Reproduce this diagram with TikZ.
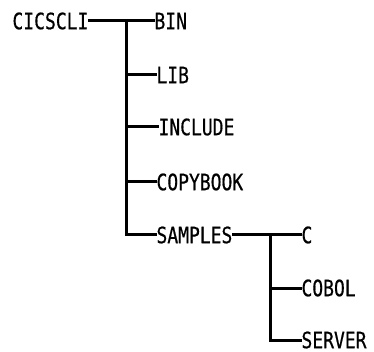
\documentclass[tikz,border=0pt]{standalone}
\usepackage{fontspec}
\newfontfamily\treefont[FakeStretch=0.8,FakeBold=0.6]{DejaVu Sans Mono}
\begin{document}
\begin{tikzpicture}[x=1pt,y=-1pt,
  dir/.style={anchor=west,inner sep=0pt,outer sep=1.5pt,font=\treefont\fontsize{22.5}{24}\selectfont},
  link/.style={line width=3pt,line cap=rect}]
\useasboundingbox (0,0) rectangle (374,352);
% directory names
\node[dir] (root) at (11,21) {CICSCLI};
\node[dir] (bin) at (153,21) {BIN};
\node[dir] (lib) at (155,75) {LIB};
\node[dir] (inc) at (157,127) {INCLUDE};
\node[dir] (copy) at (155,182) {COPYBOOK};
\node[dir] (samp) at (155,235) {SAMPLES};
\node[dir] (c) at (300,235) {C};
\node[dir] (cobol) at (300,288) {COBOL};
\node[dir] (server) at (300,340) {SERVER};
% branch points of the two trunks
\coordinate (t1) at (126,21);
\coordinate (t2) at (270,235);
% first level
\draw[link] (root.east) -- (bin.west);
\draw[link] (t1) -- (t1 |- samp.west) -- (samp.west);
\draw[link] (t1 |- lib.west) -- (lib.west);
\draw[link] (t1 |- inc.west) -- (inc.west);
\draw[link] (t1 |- copy.west) -- (copy.west);
% second level
\draw[link] (samp.east) -- (c.west);
\draw[link] (t2) -- (t2 |- server.west) -- (server.west);
\draw[link] (t2 |- cobol.west) -- (cobol.west);
\end{tikzpicture}
\end{document}
